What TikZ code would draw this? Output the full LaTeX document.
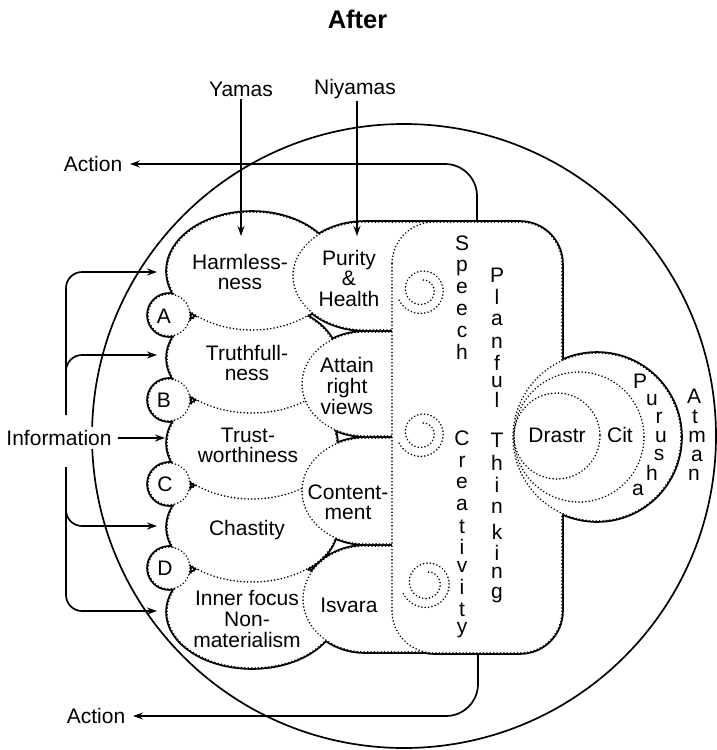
\documentclass[tikz,border=0pt]{standalone}
\usepackage{fontspec}
\setmainfont{Liberation Sans}
\usetikzlibrary{arrows.meta}
\begin{document}
\begin{tikzpicture}[x=1pt,y=-1pt,
  every node/.style={font=\fontsize{21}{20}\selectfont, inner sep=2pt, align=center},
  letter/.style={inner sep=0pt},
  outl/.style={line width=1.7pt},
  dots/.style={line width=1.7pt, dash pattern=on 0.1pt off 3.3pt, line cap=round},
  arr/.style={line width=1.7pt, -{Stealth[length=10pt,width=7pt]}},
  sHarm/.style={insert path={(252,271) ellipse [x radius=85, y radius=59]}},
  sTruth/.style={insert path={(252,358) ellipse [x radius=85, y radius=55]}},
  sTrust/.style={insert path={(252,443) ellipse [x radius=85, y radius=56]}},
  sChast/.style={insert path={(252,527) ellipse [x radius=85, y radius=55]}},
  sInner/.style={insert path={(252,612) ellipse [x radius=85, y radius=56]}},
  sA/.style={insert path={(169,315) circle [radius=21]}},
  sB/.style={insert path={(169,400) circle [radius=21]}},
  sC/.style={insert path={(169,484) circle [radius=21]}},
  sD/.style={insert path={(169,568) circle [radius=21]}},
  sPur/.style={insert path={(440,222) -- (365,222) arc [start angle=270, end angle=90, x radius=72, y radius=54] -- (440,330) -- cycle}},
  sAtt/.style={insert path={(440,332) -- (365,332) arc [start angle=270, end angle=90, x radius=63, y radius=52] -- (440,436) -- cycle}},
  sCont/.style={insert path={(440,438) -- (365,438) arc [start angle=270, end angle=90, x radius=63, y radius=53] -- (440,544) -- cycle}},
  sIsv/.style={insert path={(440,546) -- (365,546) arc [start angle=270, end angle=90, x radius=62, y radius=53] -- (440,652) -- cycle}},
  sRect/.style={insert path={{[rounded corners=42pt] (392,222) rectangle (562,653)}}},
  sPuru/.style={insert path={(597,437) circle [radius=84]}},
  shp/.style={fill=white, draw, dots}
]
\useasboundingbox (0,0) rectangle (716,750);

% big outer circle
\draw[outl] (404,436) circle [radius=312];

% solid outer contour of all overlapping shapes
\draw[line width=3.6pt, sInner, sChast, sTrust, sTruth, sHarm, sD, sC, sB, sA,
      sIsv, sCont, sAtt, sPur, sRect, sPuru];
% layered fills with dotted inner boundaries
\path[shp, sInner];
\path[shp, sChast];
\path[shp, sTrust];
\path[shp, sTruth];
\path[shp, sHarm];
\path[shp, sD];
\path[shp, sC];
\path[shp, sB];
\path[shp, sA];
\path[shp, sIsv];
\path[shp, sCont];
\path[shp, sAtt];
\path[shp, sPur];
\path[shp, sRect];
\path[shp, sPuru];
\draw[dots] (579,437) circle [radius=65];
\draw[dots] (557,436) circle [radius=43];

% spirals
\draw[dots] plot[domain=0:600, samples=150, smooth]
  ({422+(25-15*\x/600)*cos(156-\x)}, {290+(25-15*\x/600)*sin(156-\x)});
\draw[dots] plot[domain=0:600, samples=150, smooth]
  ({422+(25-15*\x/600)*cos(156-\x)}, {433+(25-15*\x/600)*sin(156-\x)});
\draw[dots] plot[domain=0:600, samples=150, smooth]
  ({427+(26-15*\x/600)*cos(156-\x)}, {583+(26-15*\x/600)*sin(156-\x)});

% texts
\node[font=\fontsize{25.5}{26}\selectfont\bfseries] (after) at (357.5,19) {After};
\node (yamas) at (241,89) {Yamas};
\node (niy) at (355,89) {Niyamas};
\node (act1) at (93,164) {Action};
\node (act2) at (96,716) {Action};
\node[fill=white, inner sep=3pt] (info) at (59,438) {Information};

\node (harm) at (240,272) {Harmless-\\ness};
\node (truth) at (247,363) {Truthfull-\\ness};
\node (trust) at (248,445) {Trust-\\worthiness};
\node (chast) at (247,530) {Chastity};
\node[font=\fontsize{21}{21}\selectfont] (inner) at (247,619) {Inner focus\\Non-\\materialism};
\node[font=\fontsize{21}{20.5}\selectfont] (pur) at (349,278) {Purity\\\&\\Health};
\node[font=\fontsize{21}{21}\selectfont] (att) at (347,386) {Attain\\right\\views};
\node (cont) at (348,502) {Content-\\ment};
\node (isv) at (349,605) {Isvara};
\node (la) at (164,316) {A};
\node (lb) at (164,400) {B};
\node (lc) at (165,484) {C};
\node (ld) at (165,568) {D};
\node (drastr) at (557,435) {Drastr};
\node (cit) at (620,435) {Cit};

\foreach \ch/\yy [count=\k] in {S/243,p/268,e/288,e/310,c/332,h/352}
  \node[letter] (sp\k) at (462,\yy) {\ch};
\foreach \ch/\yy [count=\k] in {C/438,r/462,e/483,a/505,t/527,i/547,v/567,i/587,t/610,y/630}
  \node[letter] (cr\k) at (462,\yy) {\ch};
\foreach \ch/\yy [count=\k] in {P/275,l/297,a/320,n/343,f/363,u/382,l/400}
  \node[letter] (pl\k) at (497,\yy) {\ch};
\foreach \ch/\yy [count=\k] in {T/440,h/463,i/485,n/508,k/532,i/553,n/573,g/595}
  \node[letter] (th\k) at (497,\yy) {\ch};
\foreach \ch/\xx/\yy [count=\k] in {P/640/381,u/652/400,r/659/418,u/661/437,s/659/455,h/652/473,a/638/490}
  \node[letter] (pu\k) at (\xx,\yy) {\ch};
\foreach \ch/\xx/\yy [count=\k] in {A/694/396,t/695/417,m/697/437,a/697/456,n/694/475}
  \node[letter] (at\k) at (\xx,\yy) {\ch};

% connectors
\coordinate (harmTop) at (241,236);
\coordinate (purTop) at (357,236);
\draw[arr] (yamas.south) -- (yamas.south |- harmTop);
\draw[arr] (niy.south -| purTop) -- (purTop);

\coordinate (rtop) at (477,222);
\coordinate (rbot) at (478,653);
\coordinate (a1tip) at (130,164);
\coordinate (a2tip) at (133,716);
\draw[arr, rounded corners=32pt] (rtop) |- (a1tip);
\draw[arr, rounded corners=32pt] (rbot) |- (a2tip);

\coordinate (i1) at (66,415);
\coordinate (i2) at (66,467);
\coordinate (ib1) at (66,374);
\coordinate (ib2) at (66,508);
\coordinate (harmIn) at (157,272);
\coordinate (truthIn) at (157,355);
\coordinate (trustIn) at (165,438);
\coordinate (chastIn) at (157,526);
\coordinate (innerIn) at (157,611);
\draw[arr, rounded corners=16pt] (i1) |- (harmIn);
\draw[arr, rounded corners=16pt] (ib1) |- (truthIn);
\draw[arr] ([xshift=3pt]info.east) -- (trustIn);
\draw[arr, rounded corners=16pt] (ib2) |- (chastIn);
\draw[arr, rounded corners=16pt] (i2) |- (innerIn);
\end{tikzpicture}
\end{document}
